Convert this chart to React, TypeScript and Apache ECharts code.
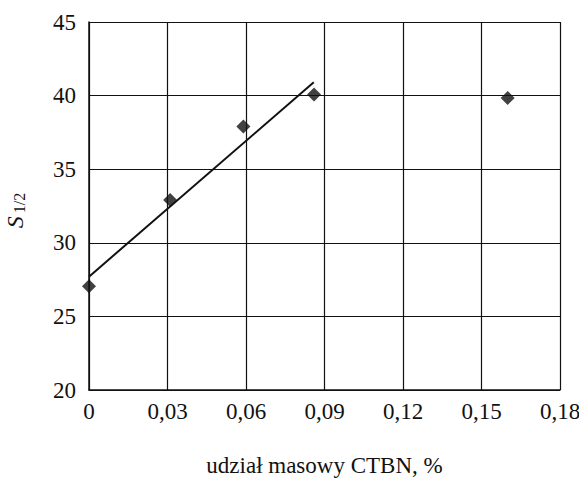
import React, { useEffect, useRef } from "react";
import * as echarts from "echarts";

const massFraction = [0, 0.031, 0.059, 0.086, 0.16];
const s12Values = [27.05, 32.9, 37.9, 40.07, 39.84];
const fitX = [0, 0.0859];
const fitY = [27.7, 40.9];
const xTicks = ["0", "0,03", "0,06", "0,09", "0,12", "0,15", "0,18"];
const yTicks = [20, 25, 30, 35, 40, 45];

const FONT = "'Liberation Serif', 'Times New Roman', serif";

export default function App() {
  const ref = useRef<HTMLDivElement>(null);
  useEffect(() => {
    if (!ref.current) return;
    const chart = echarts.init(ref.current, undefined, { renderer: "svg" });
    const lineColor = "#111";
    chart.setOption({
      animation: false,
      backgroundColor: "#fff",
      grid: { left: 89, right: 19, top: 22, bottom: 89, containLabel: false, outerBoundsMode: "none" },
      xAxis: {
        type: "value",
        min: 0,
        max: 0.18,
        interval: 0.03,
        name: "udział masowy CTBN, %",
        nameLocation: "middle",
        nameGap: 64,
        nameTextStyle: { fontFamily: FONT, fontSize: 23, color: "#111" },
        axisLine: { show: true, onZero: false, lineStyle: { color: lineColor, width: 1.5 } },
        axisTick: { show: false },
        axisLabel: {
          fontFamily: FONT,
          fontSize: 23,
          color: "#111",
          margin: 10,
          showMaxLabel: true,
          showMinLabel: true,
          hideOverlap: false,
          formatter: (v: number) => xTicks[Math.round(v / 0.03)] ?? "",
        },
        splitLine: { show: true, lineStyle: { color: lineColor, width: 1.2 } },
      },
      yAxis: {
        type: "value",
        min: yTicks[0],
        max: yTicks[yTicks.length - 1],
        interval: 5,
        name: "{s|S}{sub|1/2}",
        nameLocation: "middle",
        nameRotate: 90,
        nameGap: 62,
        nameTextStyle: {
          fontFamily: FONT,
          color: "#111",
          rich: {
            s: { fontFamily: FONT, fontSize: 24, lineHeight: 24, fontStyle: "italic", color: "#111", verticalAlign: "top" },
            sub: {
              fontFamily: FONT,
              fontSize: 16,
              lineHeight: 16,
              color: "#111",
              verticalAlign: "bottom",
              padding: [17, 9, 0, 3],
            },
          },
        },
        axisLine: { show: true, lineStyle: { color: lineColor, width: 1.5 } },
        axisTick: { show: false },
        axisLabel: { fontFamily: FONT, fontSize: 23, color: "#111", margin: 13 },
        splitLine: { show: true, lineStyle: { color: lineColor, width: 1.2 } },
      },
      series: [
        {
          type: "line",
          data: fitX.map((x, i) => [x, fitY[i]]),
          symbol: "none",
          lineStyle: { color: "#111", width: 2 },
          z: 3,
        },
        {
          type: "scatter",
          data: massFraction.map((x, i) => [x, s12Values[i]]),
          symbol: "diamond",
          symbolSize: 14,
          itemStyle: { color: "#111" },
          z: 4,
        },
      ],
    });
    return () => chart.dispose();
  }, []);
  return (
    <div
      ref={ref}
      style={{ position: "absolute", left: 0, top: 0, width: 579, height: 479, background: "#fff" }}
    />
  );
}
